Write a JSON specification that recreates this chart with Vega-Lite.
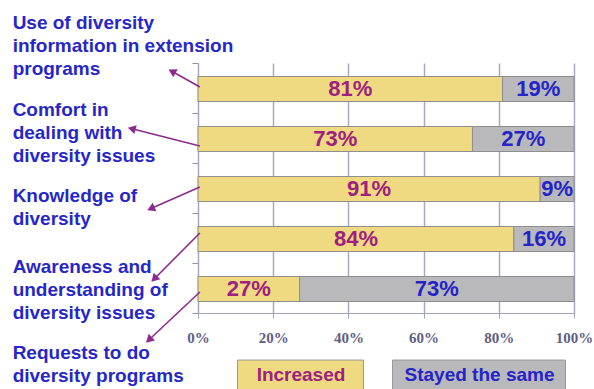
{
  "$schema": "https://vega.github.io/schema/vega-lite/v6.json",
  "width": 376,
  "height": 250,
  "autosize": "none",
  "padding": {"left": 198, "top": 63, "right": 20, "bottom": 76},
  "background": "white",
  "config": {
    "view": {"stroke": null},
    "font": "Liberation Sans",
    "axisX": {
      "grid": true, "gridColor": "#a8a8c2", "gridWidth": 1.5, "gridOpacity": 1,
      "domainColor": "#a4a4bc", "tickColor": "#a4a4bc", "tickSize": 5,
      "labelFlush": false, "labelOverlap": false,
      "labelFont": "Liberation Serif", "labelFontWeight": "bold", "labelFontSize": 15, "labelColor": "#5e5e84", "labelPadding": 12
    },
    "axisY": {"grid": false, "domainColor": "#a4a4bc", "tickColor": "#9090aa", "tickSize": 6}
  },
  "datasets": {
    "bars": [
      {"item": "Use of diversity information in extension programs", "response": "Increased", "pct": 81},
      {"item": "Use of diversity information in extension programs", "response": "Stayed the same", "pct": 19},
      {"item": "Comfort in dealing with diversity issues", "response": "Increased", "pct": 73},
      {"item": "Comfort in dealing with diversity issues", "response": "Stayed the same", "pct": 27},
      {"item": "Knowledge of diversity", "response": "Increased", "pct": 91},
      {"item": "Knowledge of diversity", "response": "Stayed the same", "pct": 9},
      {"item": "Awareness and understanding of diversity issues", "response": "Increased", "pct": 84},
      {"item": "Awareness and understanding of diversity issues", "response": "Stayed the same", "pct": 16},
      {"item": "Requests to do diversity programs", "response": "Increased", "pct": 27},
      {"item": "Requests to do diversity programs", "response": "Stayed the same", "pct": 73}
    ],
    "notes": [
      {"label": "Use of diversity\ninformation in extension\nprograms", "lx": -49.3, "ly": -0.98, "tx": 0.5, "ty": 0.48, "hx": -6.6, "hy": 0.18},
      {"label": "Comfort in\ndealing with\ndiversity issues", "lx": -49.3, "ly": 0.76, "tx": 0.5, "ty": 1.66, "hx": -17.3, "hy": 1.32},
      {"label": "Knowledge of\ndiversity", "lx": -49.3, "ly": 2.48, "tx": 0.5, "ty": 2.48, "hx": -12.2, "hy": 2.9},
      {"label": "Awareness and\nunderstanding of\ndiversity issues", "lx": -49.3, "ly": 3.9, "tx": 0.5, "ty": 3.4, "hx": -11.4, "hy": 4.3},
      {"label": "Requests to do\ndiversity programs", "lx": -49.3, "ly": 5.62, "tx": 0.5, "ty": 4.58, "hx": -12.8, "hy": 5.52}
    ]
  },
  "layer": [
    {
      "data": {"name": "bars"},
      "transform": [
        {"calculate": "indexof(['Use of diversity information in extension programs', 'Comfort in dealing with diversity issues', 'Knowledge of diversity', 'Awareness and understanding of diversity issues', 'Requests to do diversity programs'], datum.item)", "as": "row"},
        {"calculate": "datum.row + 0.27", "as": "top"},
        {"calculate": "datum.row + 0.77", "as": "bottom"},
        {"calculate": "datum.row + 0.52", "as": "center"},
        {"stack": "pct", "groupby": ["item"], "sort": [{"field": "response"}], "as": ["p0", "p1"]},
        {"calculate": "(datum.p0 + datum.p1) / 2", "as": "mid"},
        {"calculate": "datum.pct + '%'", "as": "txt"}
      ],
      "layer": [
        {
          "mark": {"type": "rect", "stroke": "#8e8e8e", "strokeWidth": 1},
          "encoding": {
            "x": {"field": "p0", "type": "quantitative", "scale": {"domain": [0, 100], "nice": false},
              "axis": {"values": [0, 20, 40, 60, 80, 100], "labelExpr": "datum.value + '%'", "title": null, "grid": true}},
            "x2": {"field": "p1"},
            "y": {"field": "top", "type": "quantitative", "scale": {"domain": [0, 5], "reverse": true, "nice": false, "zero": false},
              "axis": {"values": [0, 1, 2, 3, 4, 5], "labels": false, "title": null}},
            "y2": {"field": "bottom"},
            "color": {
              "field": "response", "type": "nominal",
              "scale": {"domain": ["Increased", "Stayed the same"], "range": ["#EFDA82", "#B9B9BB"]},
              "legend": {
                "orient": "none", "legendX": 15.5, "legendY": 225, "direction": "horizontal", "title": null, "padding": 0,
                "symbolType": "M-1,-0.173H1V0.173H-1Z", "symbolSize": 29929, "symbolStrokeColor": "#9a9a9a", "symbolStrokeWidth": 1, "symbolOpacity": 1,
                "labelFont": "Liberation Sans", "labelFontWeight": "bold", "labelFontSize": 19, "labelAlign": "center", "labelOffset": -86.5, "labelLimit": 300,
                "columnPadding": 24.5,
                "encode": {
                  "symbols": {"update": {"shape": {"signal": "datum.value === 'Increased' ? 'M-0.728,-0.173H0.728V0.173H-0.728Z' : 'M-1,-0.173H1V0.173H-1Z'"}}},
                  "labels": {"update": {"fill": {"signal": "datum.value === 'Increased' ? '#a0207e' : '#2424c8'"}}}
                }
              }
            }
          }
        },
        {
          "mark": {"type": "text", "font": "Liberation Sans", "fontWeight": "bold", "fontSize": 22, "baseline": "middle"},
          "encoding": {
            "x": {"field": "mid", "type": "quantitative", "scale": {"domain": [0, 100], "nice": false},
              "axis": {"values": [0, 20, 40, 60, 80, 100], "labelExpr": "datum.value + '%'", "title": null, "grid": true}},
            "y": {"field": "center", "type": "quantitative", "scale": {"domain": [0, 5], "reverse": true, "nice": false, "zero": false},
              "axis": {"values": [0, 1, 2, 3, 4, 5], "labels": false, "title": null}},
            "text": {"field": "txt"},
            "color": {"condition": {"test": "datum.response === 'Increased'", "value": "#a0207e"}, "value": "#2424c8"}
          }
        }
      ]
    },
    {
      "data": {"name": "notes"},
      "transform": [
        {"calculate": "atan2((datum.hx - datum.tx) * width / 100, (datum.hy - datum.ty) * -height / 5) * 180 / PI", "as": "angle"}
      ],
      "layer": [
        {
          "mark": {"type": "text", "font": "Liberation Sans", "fontWeight": "bold", "fontSize": 19, "align": "left", "baseline": "top", "lineBreak": "\n", "lineHeight": 23, "color": "#2727c8"},
          "encoding": {
            "x": {"field": "lx", "type": "quantitative", "scale": {"domain": [0, 100], "nice": false},
              "axis": {"values": [0, 20, 40, 60, 80, 100], "labelExpr": "datum.value + '%'", "title": null, "grid": true}},
            "y": {"field": "ly", "type": "quantitative", "scale": {"domain": [0, 5], "reverse": true, "nice": false, "zero": false},
              "axis": {"values": [0, 1, 2, 3, 4, 5], "labels": false, "title": null}},
            "text": {"field": "label"}
          }
        },
        {
          "mark": {"type": "rule", "color": "#8e2a8e", "strokeWidth": 1.6},
          "encoding": {
            "x": {"field": "tx", "type": "quantitative", "scale": {"domain": [0, 100], "nice": false},
              "axis": {"values": [0, 20, 40, 60, 80, 100], "labelExpr": "datum.value + '%'", "title": null, "grid": true}},
            "x2": {"field": "hx"},
            "y": {"field": "ty", "type": "quantitative", "scale": {"domain": [0, 5], "reverse": true, "nice": false, "zero": false},
              "axis": {"values": [0, 1, 2, 3, 4, 5], "labels": false, "title": null}},
            "y2": {"field": "hy"}
          }
        },
        {
          "mark": {"type": "point", "shape": "triangle", "filled": true, "size": 85, "color": "#8e2a8e", "opacity": 1},
          "encoding": {
            "x": {"field": "hx", "type": "quantitative", "scale": {"domain": [0, 100], "nice": false},
              "axis": {"values": [0, 20, 40, 60, 80, 100], "labelExpr": "datum.value + '%'", "title": null, "grid": true}},
            "y": {"field": "hy", "type": "quantitative", "scale": {"domain": [0, 5], "reverse": true, "nice": false, "zero": false},
              "axis": {"values": [0, 1, 2, 3, 4, 5], "labels": false, "title": null}},
            "angle": {"field": "angle", "type": "quantitative", "scale": null}
          }
        }
      ]
    }
  ]
}
